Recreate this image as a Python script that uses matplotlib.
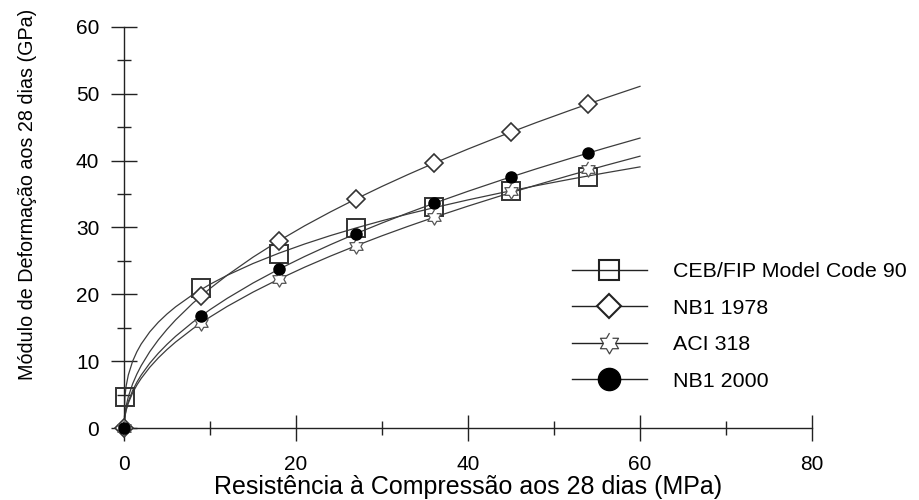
import numpy as np
import matplotlib
matplotlib.use("Agg")
import matplotlib.pyplot as plt
from matplotlib.lines import Line2D

plt.rcParams['font.family'] = ['Liberation Sans', 'DejaVu Sans']

# marker positions (fck, MPa) and moduli (GPa)
fck_pts = [0, 9, 18, 27, 36, 45, 54]
ceb_fck = [0.1, 9, 18, 27, 36, 45, 54]
ceb_pts = [4.6, 21.0, 26.1, 29.9, 33.0, 35.5, 37.6]
nb78_pts = [0.0, 19.8, 28.0, 34.3, 39.6, 44.3, 48.5]
aci_pts = [0.0, 15.7, 22.3, 27.3, 31.5, 35.4, 38.8]
nb00_pts = [0.0, 16.8, 23.8, 29.1, 33.7, 37.6, 41.2]

# points
fck_curve = [0, 0.1, 0.25, 0.5, 1, 1.5, 2, 3, 4, 5, 6, 8, 10, 12, 15, 18,
             21, 24, 27, 30, 33, 36, 40, 44, 48, 52, 56, 60]
ceb_curve = [0, 4.63, 6.29, 7.92, 9.98, 11.42, 12.57, 14.39, 15.84, 17.06,
             18.13, 19.96, 21.5, 22.85, 24.61, 26.15, 27.53, 28.79, 29.94,
             31.01, 32.01, 32.95, 34.13, 35.23, 36.27, 37.25, 38.18, 39.07]
nb78_curve = [0, 2.09, 3.3, 4.67, 6.6, 8.08, 9.33, 11.43, 13.2, 14.76,
              16.17, 18.67, 20.87, 22.86, 25.56, 28.0, 30.25, 32.33, 34.29,
              36.15, 37.91, 39.6, 41.74, 43.78, 45.73, 47.59, 49.39, 51.12]
aci_curve = [0, 1.66, 2.63, 3.71, 5.25, 6.43, 7.42, 9.09, 10.5, 11.74,
             12.86, 14.85, 16.6, 18.19, 20.33, 22.27, 24.06, 25.72, 27.28,
             28.76, 30.16, 31.5, 33.2, 34.82, 36.37, 37.86, 39.29, 40.67]
nb00_curve = [0, 1.77, 2.8, 3.96, 5.6, 6.86, 7.92, 9.7, 11.2, 12.52,
              13.72, 15.84, 17.71, 19.4, 21.69, 23.76, 25.66, 27.43, 29.1,
              30.67, 32.17, 33.6, 35.42, 37.15, 38.8, 40.38, 41.91, 43.38]

labels = ['CEB/FIP Model Code 90', 'NB1 1978', 'ACI 318', 'NB1 2000']

# six pointed star outline
ang = np.deg2rad(np.arange(12) * 30 + 90)
rad = np.where(np.arange(12) % 2 == 0, 1.0, 0.58)
star6 = list(zip(rad * np.cos(ang), rad * np.sin(ang)))

lc = '#3c3c3c'
lw = 0.9

fig = plt.figure(figsize=(9.19, 5.0), dpi=100)
ax = fig.add_axes([124 / 919, 1 - 428 / 500, (812 - 124) / 919, (428 - 27) / 500])

ax.plot(fck_curve, ceb_curve, color=lc, lw=lw, zorder=2)
ax.plot(fck_curve, nb78_curve, color=lc, lw=lw, zorder=2)
ax.plot(fck_curve, aci_curve, color=lc, lw=lw, zorder=2)
ax.plot(fck_curve, nb00_curve, color=lc, lw=lw, zorder=2)

ax.plot(ceb_fck, ceb_pts, ls='none', marker='s', ms=13, mfc='none',
        mec='#333333', mew=1.4, clip_on=False, zorder=3)
ax.plot(fck_pts, nb78_pts, ls='none', marker='D', ms=9.5, mfc='white',
        mec='#333333', mew=1.2, clip_on=False, zorder=3)
ax.plot(fck_pts, aci_pts, ls='none', marker=star6, ms=11, mfc='white',
        mec='#555555', mew=0.9, clip_on=False, zorder=4)
ax.plot(fck_pts, nb00_pts, ls='none', marker='o', ms=8, mfc='black',
        mec='black', clip_on=False, zorder=5)

ax.set_xlim(0, 80)
ax.set_ylim(0, 60)
ax.set_xticks([0, 20, 40, 60, 80])
ax.set_xticks([10, 30, 50, 70], minor=True)
ax.set_yticks(np.arange(0, 61, 10))
ax.set_yticks(np.arange(5, 60, 10), minor=True)

for s in ['top', 'right']:
    ax.spines[s].set_visible(False)
for s in ['left', 'bottom']:
    ax.spines[s].set_linewidth(1.0)
    ax.spines[s].set_color('#222222')

ax.tick_params(which='major', direction='inout', length=18.5, width=1.0,
               color='#222222', labelsize=15, pad=8.5)
ax.tick_params(which='minor', direction='inout', length=9.5, width=1.0,
               color='#222222')
ax.tick_params(axis='x', which='major', pad=10)

fig.text(468 / 919, 1 - 494 / 500, 'Resistência à Compressão aos 28 dias (MPa)',
         ha='center', va='baseline', fontsize=18)
fig.text(28 / 919, 1 - 194 / 500, 'Módulo de Deformação aos 28 dias (GPa)',
         ha='center', va='center', rotation=90, fontsize=14.2)

handles = [
    Line2D([], [], color='#222222', lw=1.0, marker='s', ms=15, mfc='none',
           mec='#222222', mew=1.5),
    Line2D([], [], color='#222222', lw=1.0, marker='D', ms=12, mfc='white',
           mec='#222222', mew=1.5),
    Line2D([], [], color='#222222', lw=1.0, marker=star6, ms=15, mfc='white',
           mec='#444444', mew=0.9),
    Line2D([], [], color='#222222', lw=1.0, marker='o', ms=16, mfc='black',
           mec='black'),
]
fig.legend(handles, labels, loc='upper left', bbox_to_anchor=(572 / 919, 1 - 262 / 500),
           frameon=False, fontsize=15.4, handlelength=3.5, handletextpad=1.2,
           labelspacing=0.82, borderpad=0, borderaxespad=0)

fig.savefig('out.png', dpi=100)
